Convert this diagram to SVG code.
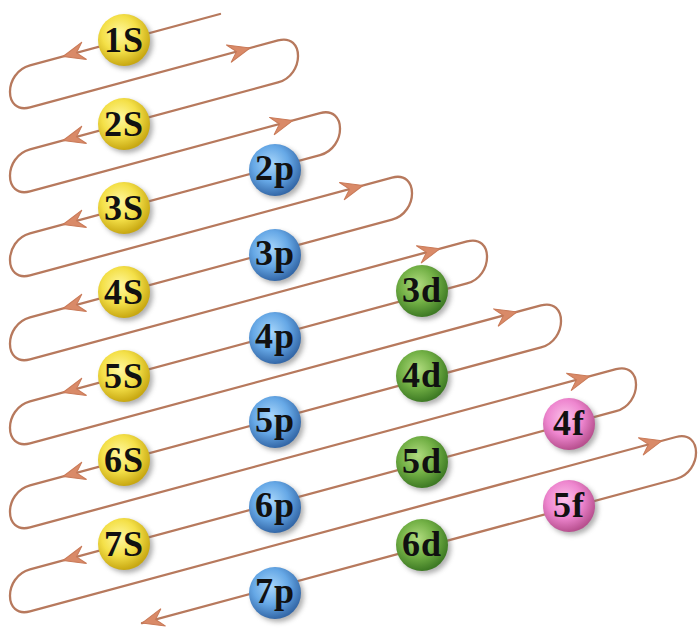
<svg xmlns="http://www.w3.org/2000/svg" xmlns:xlink="http://www.w3.org/1999/xlink" width="700" height="631" viewBox="0 0 700 631">
<defs>
<radialGradient id="gy" cx="0.42" cy="0.38" r="0.62"><stop offset="0" stop-color="#fff8a0"/><stop offset="0.55" stop-color="#f4e048"/><stop offset="1" stop-color="#c8a812"/></radialGradient>
<radialGradient id="gb" cx="0.42" cy="0.38" r="0.62"><stop offset="0" stop-color="#a8d6fa"/><stop offset="0.55" stop-color="#66a8e6"/><stop offset="1" stop-color="#3468a8"/></radialGradient>
<radialGradient id="gg" cx="0.42" cy="0.38" r="0.62"><stop offset="0" stop-color="#b2dc80"/><stop offset="0.55" stop-color="#72b045"/><stop offset="1" stop-color="#3e7a24"/></radialGradient>
<radialGradient id="gp" cx="0.42" cy="0.38" r="0.62"><stop offset="0" stop-color="#fbc2ea"/><stop offset="0.55" stop-color="#ee86cf"/><stop offset="1" stop-color="#b8508f"/></radialGradient>
<filter id="sh" x="-30%" y="-30%" width="160%" height="160%"><feGaussianBlur stdDeviation="2.5"/></filter>
<path id="ah" d="M0,0 L-22,-9 L-14,0 L-22,9 Z"/>
</defs>
<style>
.wire{fill:none;stroke:#b7795d;stroke-width:2.3;stroke-linejoin:round;stroke-linecap:round}
.arr{fill:#d98a68;stroke:#c97a58;stroke-width:1}
.shd{fill:#707070;opacity:0.55;filter:url(#sh)}
.lbl{font-family:"Liberation Serif","Times New Roman",serif;font-weight:bold;font-size:36px;letter-spacing:1px;fill:#111;text-anchor:middle}
.ys{fill:url(#gy)}.bp{fill:url(#gb)}.gd{fill:url(#gg)}.pf{fill:url(#gp)}
</style>
<rect width="700" height="631" fill="#ffffff"/>
<g id="connectors">
<path class="wire" d="M 220,14 L 30,65.4 C 3.3,72.6 3.3,114.6 30,107.4 L 278,40.4 C 304.7,33.2 304.7,75.2 278,82.4 L 30,149.4 C 3.3,156.6 3.3,198.6 30,191.4 L 320,113.1 C 346.7,105.9 346.7,147.9 320,155.1 L 30,233.4 C 3.3,240.6 3.3,282.6 30,275.4 L 392,177.6 C 418.7,170.4 418.7,212.4 392,219.6 L 30,317.4 C 3.3,324.6 3.3,366.6 30,359.4 L 467,241.4 C 493.7,234.2 493.7,276.2 467,283.4 L 30,401.4 C 3.3,408.6 3.3,450.6 30,443.4 L 541,305.4 C 567.7,298.2 567.7,340.2 541,347.4 L 30,485.4 C 3.3,492.6 3.3,534.6 30,527.4 L 616,369.2 C 642.7,362 642.7,404 616,411.2 L 30,569.4 C 3.3,576.6 3.3,618.6 30,611.4 L 676,437 C 702.7,429.8 702.7,471.8 676,479 L 142,623.1"/>
<use class="arr" xlink:href="#ah" transform="translate(63,56.5) rotate(164.9)"/>
<use class="arr" xlink:href="#ah" transform="translate(63,140.5) rotate(164.9)"/>
<use class="arr" xlink:href="#ah" transform="translate(63,224.5) rotate(164.9)"/>
<use class="arr" xlink:href="#ah" transform="translate(63,308.5) rotate(164.9)"/>
<use class="arr" xlink:href="#ah" transform="translate(63,392.5) rotate(164.9)"/>
<use class="arr" xlink:href="#ah" transform="translate(63,476.5) rotate(164.9)"/>
<use class="arr" xlink:href="#ah" transform="translate(63,560.5) rotate(164.9)"/>
<use class="arr" xlink:href="#ah" transform="translate(142,623.1) rotate(164.9)"/>
<use class="arr" xlink:href="#ah" transform="translate(250,48) rotate(-15.1)"/>
<use class="arr" xlink:href="#ah" transform="translate(293,120.4) rotate(-15.1)"/>
<use class="arr" xlink:href="#ah" transform="translate(363,185.5) rotate(-15.1)"/>
<use class="arr" xlink:href="#ah" transform="translate(440,248.7) rotate(-15.1)"/>
<use class="arr" xlink:href="#ah" transform="translate(517,311.9) rotate(-15.1)"/>
<use class="arr" xlink:href="#ah" transform="translate(590,376.2) rotate(-15.1)"/>
<use class="arr" xlink:href="#ah" transform="translate(662,440.7) rotate(-15.1)"/>
</g>
<g id="n1s"><circle class="shd" cx="127" cy="43" r="26"/><circle class="ys" cx="124" cy="40" r="26"/><text class="lbl" x="124" y="52">1S</text></g>
<g id="n2s"><circle class="shd" cx="127" cy="127" r="26"/><circle class="ys" cx="124" cy="124" r="26"/><text class="lbl" x="124" y="136">2S</text></g>
<g id="n3s"><circle class="shd" cx="127" cy="211" r="26"/><circle class="ys" cx="124" cy="208" r="26"/><text class="lbl" x="124" y="220">3S</text></g>
<g id="n4s"><circle class="shd" cx="127" cy="295" r="26"/><circle class="ys" cx="124" cy="292" r="26"/><text class="lbl" x="124" y="304">4S</text></g>
<g id="n5s"><circle class="shd" cx="127" cy="379" r="26"/><circle class="ys" cx="124" cy="376" r="26"/><text class="lbl" x="124" y="388">5S</text></g>
<g id="n6s"><circle class="shd" cx="127" cy="463" r="26"/><circle class="ys" cx="124" cy="460" r="26"/><text class="lbl" x="124" y="472">6S</text></g>
<g id="n7s"><circle class="shd" cx="127" cy="547" r="26"/><circle class="ys" cx="124" cy="544" r="26"/><text class="lbl" x="124" y="556">7S</text></g>
<g id="n2p"><circle class="shd" cx="278" cy="173" r="26"/><circle class="bp" cx="275" cy="170" r="26"/><text class="lbl" x="275" y="180">2p</text></g>
<g id="n3p"><circle class="shd" cx="278" cy="258" r="26"/><circle class="bp" cx="275" cy="255" r="26"/><text class="lbl" x="275" y="265">3p</text></g>
<g id="n4p"><circle class="shd" cx="278" cy="341" r="26"/><circle class="bp" cx="275" cy="338" r="26"/><text class="lbl" x="275" y="348">4p</text></g>
<g id="n5p"><circle class="shd" cx="278" cy="425" r="26"/><circle class="bp" cx="275" cy="422" r="26"/><text class="lbl" x="275" y="432">5p</text></g>
<g id="n6p"><circle class="shd" cx="278" cy="510" r="26"/><circle class="bp" cx="275" cy="507" r="26"/><text class="lbl" x="275" y="517">6p</text></g>
<g id="n7p"><circle class="shd" cx="278" cy="596" r="26"/><circle class="bp" cx="275" cy="593" r="26"/><text class="lbl" x="275" y="603">7p</text></g>
<g id="n3d"><circle class="shd" cx="425" cy="294" r="26"/><circle class="gd" cx="422" cy="291" r="26"/><text class="lbl" x="422" y="302">3d</text></g>
<g id="n4d"><circle class="shd" cx="425" cy="379" r="26"/><circle class="gd" cx="422" cy="376" r="26"/><text class="lbl" x="422" y="387">4d</text></g>
<g id="n5d"><circle class="shd" cx="425" cy="465" r="26"/><circle class="gd" cx="422" cy="462" r="26"/><text class="lbl" x="422" y="473">5d</text></g>
<g id="n6d"><circle class="shd" cx="425" cy="548" r="26"/><circle class="gd" cx="422" cy="545" r="26"/><text class="lbl" x="422" y="556">6d</text></g>
<g id="n4f"><circle class="shd" cx="572" cy="427" r="26"/><circle class="pf" cx="569" cy="424" r="26"/><text class="lbl" x="569" y="435">4f</text></g>
<g id="n5f"><circle class="shd" cx="572" cy="509" r="26"/><circle class="pf" cx="569" cy="506" r="26"/><text class="lbl" x="569" y="517">5f</text></g>
</svg>
